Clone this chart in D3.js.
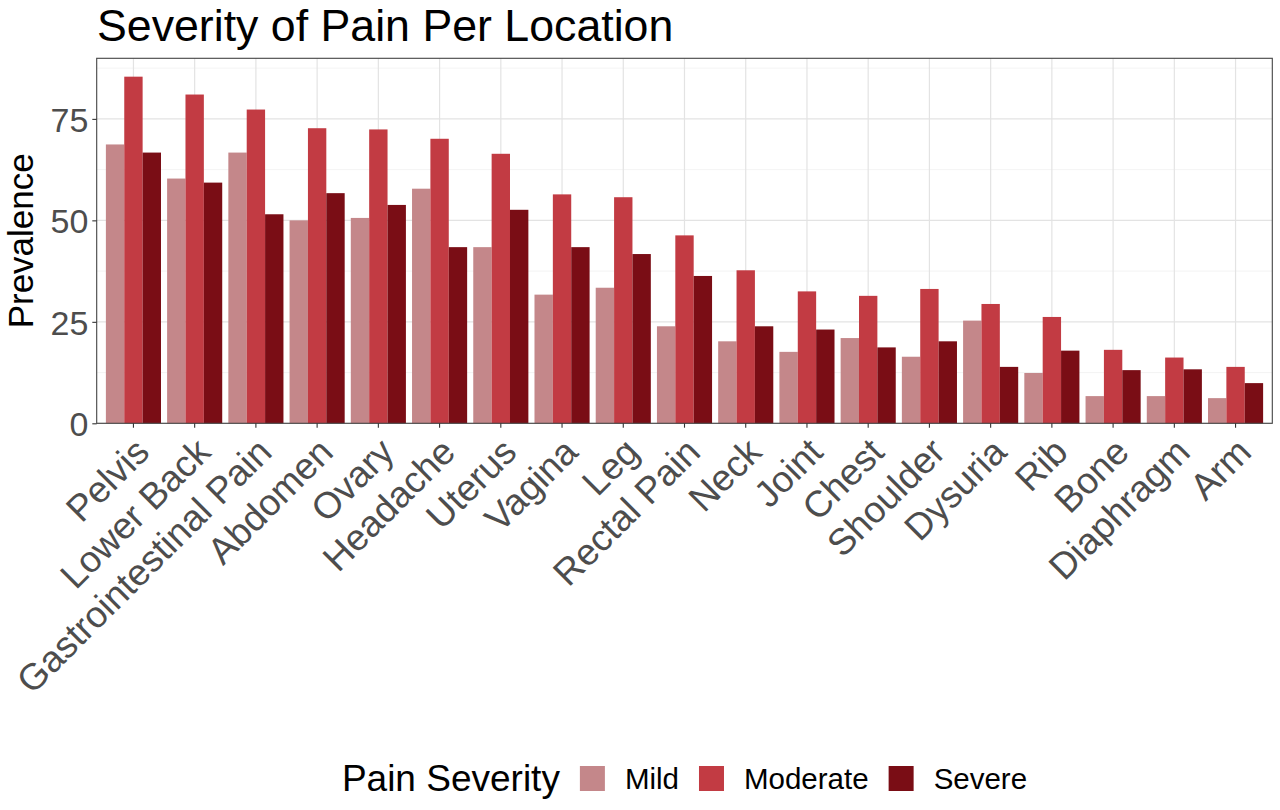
<!DOCTYPE html>
<html>
<head>
<meta charset="utf-8">
<script src="https://cdn.jsdelivr.net/npm/d3@7"></script>
<style>
  body { margin: 0; background: #fff; }
  svg { font-family: "Liberation Sans", Arial, sans-serif; }
</style>
</head>
<body>
<svg id="chart" width="1280" height="810"></svg>
<script>
// Pain locations, in plotted order
const locations = ["Pelvis", "Lower Back", "Gastrointestinal Pain", "Abdomen", "Ovary", "Headache",
  "Uterus", "Vagina", "Leg", "Rectal Pain", "Neck", "Joint", "Chest", "Shoulder", "Dysuria",
  "Rib", "Bone", "Diaphragm", "Arm"];

// Severity levels and their fill colours
const severities = ["Mild", "Moderate", "Severe"];
const severityColors = ["#c4878a", "#c23b43", "#7a0d15"];

// Prevalence per location for each severity
const mildValues = [68.7, 60.3, 66.7, 50.0, 50.6, 57.8, 43.4, 31.7, 33.4, 23.9, 20.2, 17.6, 21.0, 16.4, 25.3, 12.4, 6.7, 6.7, 6.2];
const moderateValues = [85.4, 81.0, 77.3, 72.7, 72.4, 70.1, 66.4, 56.4, 55.7, 46.3, 37.7, 32.5, 31.4, 33.1, 29.4, 26.2, 18.1, 16.2, 13.9];
const severeValues = [66.7, 59.3, 51.5, 56.7, 53.8, 43.4, 52.6, 43.4, 41.7, 36.3, 23.9, 23.1, 18.7, 20.2, 13.9, 17.9, 13.1, 13.3, 9.9];

// Y axis ticks
const majorTicks = [0, 25, 50, 75];
const minorTicks = [12.5, 37.5, 62.5, 87.5];

const seriesValues = { Mild: mildValues, Moderate: moderateValues, Severe: severeValues };

// Build long-format rows for drawing
let rows = [];
locations.forEach((loc, i) => {
    severities.forEach(sev => {
        rows.push({ location: loc, severity: sev, value: seriesValues[sev][i] });
    });
});

const svg = d3.select("#chart");

// Panel box
const panel = { left: 96.7, right: 1272.3, top: 58.3, bottom: 423.3 };

// Scales
const x = d3.scaleBand()
    .domain(locations)
    .range([panel.left, panel.right])
    .paddingInner(0.1)
    .paddingOuter(0.15);

const xSub = d3.scaleBand()
    .domain(severities)
    .range([0, x.bandwidth()]);

const maxValue = d3.max(rows, d => d.value);
const y = d3.scaleLinear()
    .domain([0, maxValue * 1.053])
    .range([panel.bottom, panel.top]);

const color = d3.scaleOrdinal().domain(severities).range(severityColors);

// Grid lines
const grid = svg.append("g");
grid.selectAll(".minor")
    .data(minorTicks.filter(t => y(t) > panel.top))
    .join("line")
    .attr("x1", panel.left).attr("x2", panel.right)
    .attr("y1", d => y(d)).attr("y2", d => y(d))
    .attr("stroke", "#f0f0f0").attr("stroke-width", 0.8);
grid.selectAll(".major")
    .data(majorTicks)
    .join("line")
    .attr("x1", panel.left).attr("x2", panel.right)
    .attr("y1", d => y(d)).attr("y2", d => y(d))
    .attr("stroke", "#e3e3e3").attr("stroke-width", 1.2);
grid.selectAll(".vert")
    .data(locations)
    .join("line")
    .attr("x1", d => x(d) + x.bandwidth() / 2).attr("x2", d => x(d) + x.bandwidth() / 2)
    .attr("y1", panel.top).attr("y2", panel.bottom)
    .attr("stroke", "#e3e3e3").attr("stroke-width", 1.2);

// Bars
svg.append("g")
    .selectAll("rect")
    .data(rows)
    .join("rect")
    .attr("x", d => x(d.location) + xSub(d.severity))
    .attr("width", xSub.bandwidth())
    .attr("y", d => y(d.value))
    .attr("height", d => y(0) - y(d.value))
    .attr("fill", d => color(d.severity));

// Panel border
svg.append("rect")
    .attr("x", panel.left).attr("y", panel.top)
    .attr("width", panel.right - panel.left).attr("height", panel.bottom - panel.top)
    .attr("fill", "none").attr("stroke", "#444").attr("stroke-width", 1.1);

// Y axis
const yAxis = svg.append("g")
    .attr("transform", `translate(${panel.left},0)`)
    .call(d3.axisLeft(y).tickValues(majorTicks).tickSize(4.4).tickPadding(4).tickFormat(d3.format("d")));
yAxis.select(".domain").remove();
yAxis.selectAll(".tick line").attr("stroke", "#333").attr("stroke-width", 1.1);
yAxis.selectAll(".tick text")
    .attr("fill", "#4d4d4d")
    .style("font-size", "34px")
    .attr("dy", "0.36em");

// X axis
const xAxis = svg.append("g")
    .attr("transform", `translate(0,${panel.bottom})`)
    .call(d3.axisBottom(x).tickSize(4.4).tickSizeOuter(0));
xAxis.select(".domain").remove();
xAxis.selectAll(".tick line").attr("stroke", "#333").attr("stroke-width", 1.1);
xAxis.selectAll(".tick text")
    .attr("fill", "#4d4d4d")
    .style("font-size", "37px")
    .attr("text-anchor", "end")
    .attr("y", 0)
    .attr("dy", "0.72em")
    .attr("transform", "translate(-1,12) rotate(-45)");

// Title
svg.append("text")
    .attr("x", 97).attr("y", 41)
    .style("font-size", "44.7px")
    .attr("fill", "#000")
    .text("Severity of Pain Per Location");

// Y axis title
svg.append("text")
    .attr("transform", `translate(33,${(panel.top + panel.bottom) / 2}) rotate(-90)`)
    .attr("text-anchor", "middle")
    .style("font-size", "35px")
    .attr("fill", "#000")
    .text("Prevalence");

// Legend
const legend = svg.append("g");
const legendTitle = legend.append("text")
    .attr("x", 0).attr("y", 791)
    .style("font-size", "37px")
    .attr("fill", "#000")
    .text("Pain Severity");

let cursor = legendTitle.node().getComputedTextLength() + 20;
severities.forEach(sev => {
    legend.append("rect")
        .attr("x", cursor).attr("y", 766)
        .attr("width", 25).attr("height", 25)
        .attr("fill", color(sev));
    cursor += 25 + 20;
    let label = legend.append("text")
        .attr("x", cursor).attr("y", 788.5)
        .style("font-size", "29.5px")
        .attr("fill", "#000")
        .text(sev);
    cursor += label.node().getComputedTextLength() + 20;
});
cursor -= 20;

// Centre the legend under the panel
const legendLeft = (panel.left + panel.right) / 2 - cursor / 2;
legend.attr("transform", `translate(${legendLeft},0)`);
</script>
</body>
</html>
